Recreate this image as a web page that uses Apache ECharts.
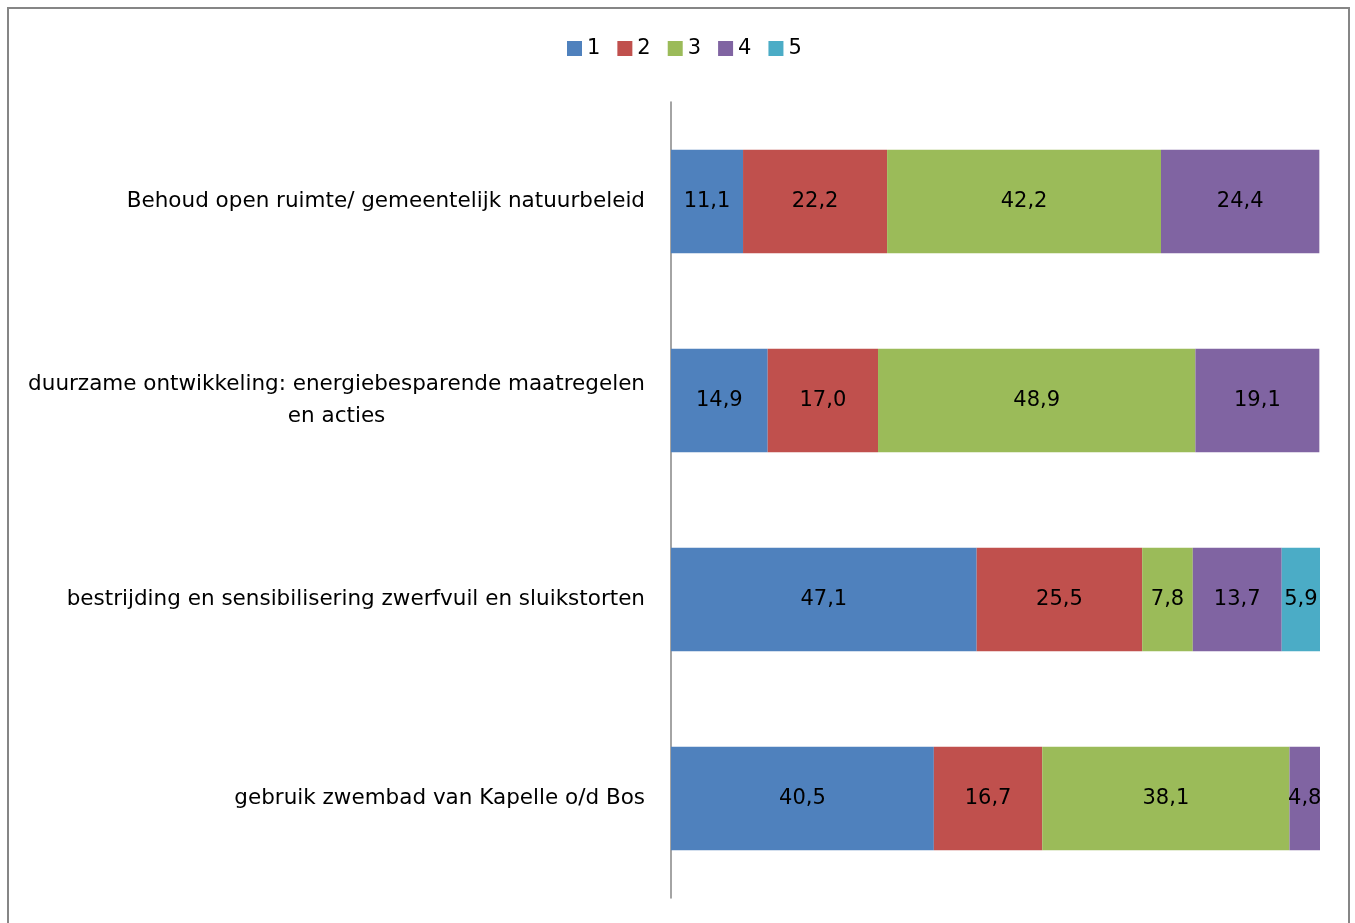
<!DOCTYPE html>
<html><head><meta charset="utf-8">
<script src="https://cdn.jsdelivr.net/npm/echarts@6/dist/echarts.min.js"></script>
<style>html,body{margin:0;padding:0;background:#fff}#c{width:1355px;height:923px}</style>
</head><body><div id="c"></div>
<script>
const categories = [
  "Behoud open ruimte/ gemeentelijk natuurbeleid",
  "duurzame ontwikkeling: energiebesparende maatregelen\nen acties",
  "bestrijding en sensibilisering zwerfvuil en sluikstorten",
  "gebruik zwembad van Kapelle o/d Bos"
];
const seriesNames = ["1", "2", "3", "4", "5"];
const s1 = [11.1, 14.9, 47.1, 40.5];
const s2 = [22.2, 17.0, 25.5, 16.7];
const s3 = [42.2, 48.9, 7.8, 38.1];
const s4 = [24.4, 19.1, 13.7, 4.8];
const s5 = [0, 0, 5.9, 0];
const colors = ["#4F81BD", "#C0504D", "#9BBB59", "#8064A2", "#4BACC6"];
const FONT = "DejaVu Sans";

const chart = echarts.init(document.getElementById('c'));
const allData = [s1, s2, s3, s4, s5];
chart.setOption({
  animation: false,
  color: colors,
  textStyle: { fontFamily: FONT },
  graphic: [{
    type: 'rect', shape: { x: 8, y: 8, width: 1341, height: 940 },
    style: { fill: 'none', stroke: '#868686', lineWidth: 2 }, silent: true
  }],
  legend: {
    top: 33, left: 562, itemWidth: 15, itemHeight: 15, itemGap: 17,
    icon: 'rect',
    textStyle: { fontSize: 21, color: '#000', fontFamily: FONT },
    data: seriesNames
  },
  grid: { left: 671, right: 35, top: 102, bottom: 25, containLabel: false },
  xAxis: {
    type: 'value', min: 0, max: 100, show: false
  },
  yAxis: {
    type: 'category', inverse: true, data: categories,
    axisLine: { show: true, lineStyle: { color: '#868686', width: 1.5 } },
    axisTick: { show: false },
    axisLabel: {
      margin: 26, fontSize: 21.5, color: '#000', fontFamily: FONT, lineHeight: 32,
      formatter: v => v.split('\n').map(l => '{c|' + l + '}').join('\n'),
      rich: { c: { align: 'center', fontSize: 21.5, fontFamily: FONT, color: '#000', lineHeight: 32 } }
    }
  },
  series: seriesNames.map((n, i) => ({
    name: n, type: 'bar', stack: 'total', barWidth: '52%',
    data: allData[i].map(v => v === 0 ? null : v),
    label: {
      show: true, position: 'inside', color: '#000', fontSize: 21, fontFamily: FONT,
      formatter: p => p.value.toFixed(1).replace('.', ',')
    }
  }))
});
</script></body></html>
